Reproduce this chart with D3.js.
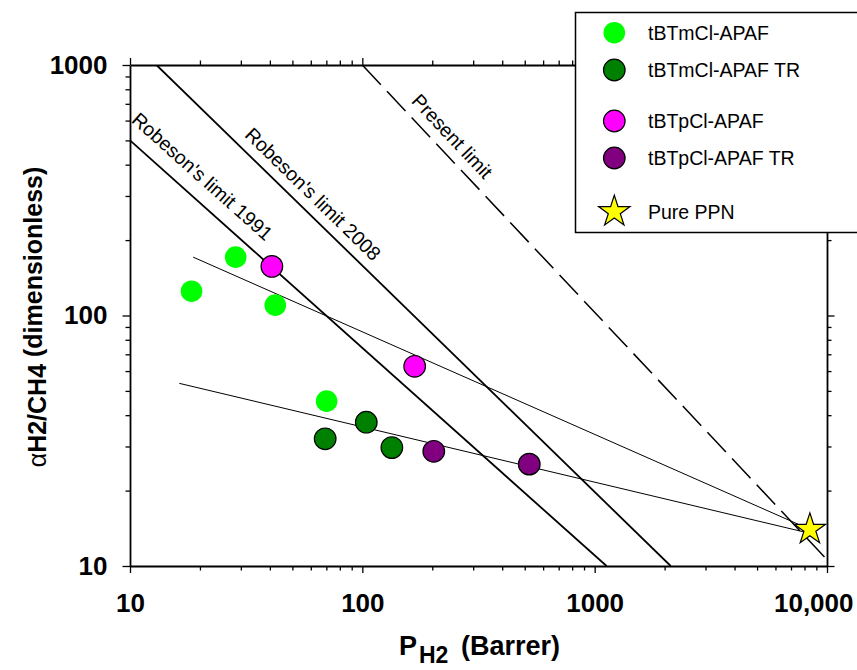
<!DOCTYPE html>
<html>
<head>
<meta charset="utf-8">
<script src="https://cdn.jsdelivr.net/npm/d3@7"></script>
<style>
  html, body { margin: 0; padding: 0; background: #fff; }
  svg { display: block; font-family: "Liberation Sans", Arial, sans-serif; }
</style>
</head>
<body>
<svg id="chart" width="857" height="670"></svg>
<script>
// ---------- data (P_H2 in Barrer, alpha H2/CH4) ----------
const seriesNames = ["tBTmCl-APAF", "tBTmCl-APAF TR", "tBTpCl-APAF", "tBTpCl-APAF TR", "Pure PPN"];
const seriesColors = ["#00ff00", "#008000", "#ff00ff", "#800080", "#ffff00"];

const mClAPAF_P     = [18.4, 28.5, 42.2, 70.2];
const mClAPAF_alpha = [125, 171, 110, 45.5];

const mClAPAF_TR_P     = [69.2, 104, 134];
const mClAPAF_TR_alpha = [32.2, 37.5, 29.7];

const pClAPAF_P     = [40.8, 168];
const pClAPAF_alpha = [157, 62.7];

const pClAPAF_TR_P     = [203, 523];
const pClAPAF_TR_alpha = [28.7, 25.5];

const ppn_P     = [8440];
const ppn_alpha = [14.0];

// upper-bound lines [P, alpha] endpoints
const robeson1991  = [[10, 500], [1125, 10]];
const robeson2008  = [[13, 1000], [2124, 10]];
const presentLimit = [[100, 1000], [10000, 10.6]];

// trend lines
const trendAPAF = [[18.7, 171], [8440, 14.0]];
const trendTR   = [[16.3, 53.6], [8440, 13.5]];

const xTickValues = [10, 100, 1000, 10000];
const xTickLabels = ["10", "100", "1000", "10,000"];
const yTickValues = [10, 100, 1000];
const yTickLabels = ["10", "100", "1000"];

// ---------- layout ----------
const svg = d3.select("#chart");
const L = 130, R = 827, T = 65, B = 566;
const FONT = '"Liberation Sans", Arial, sans-serif';

const x = d3.scaleLog().domain([10, 10000]).range([L, R]);
const y = d3.scaleLog().domain([10, 1000]).range([B, T]);

function minorTicks(domain) {
  const out = [];
  for (let d = domain[0]; d < domain[1]; d *= 10)
    for (let k = 2; k <= 9; k++) out.push(d * k);
  return out;
}
const xMinor = minorTicks([10, 10000]);
const yMinor = minorTicks([10, 1000]);

function styleAxis(g) {
  g.selectAll("path.domain").attr("stroke", "#000").attr("stroke-width", 1.8);
  g.selectAll(".tick line").attr("stroke", "#000").attr("stroke-width", 1.3);
}

// bottom
const gB = svg.append("g").attr("transform", `translate(0,${B})`)
  .call(d3.axisBottom(x).tickValues(xTickValues).tickSize(7).tickPadding(21)
        .tickFormat((d, i) => xTickLabels[i]).tickSizeOuter(0));
styleAxis(gB);
gB.selectAll("text").attr("font-family", FONT).attr("font-size", 26).attr("font-weight", "bold").attr("fill", "#000");
gB.selectAll(".tick").filter(d => d === 10000).select("text").attr("text-anchor", "end").attr("x", 853 - R);
svg.append("g").attr("transform", `translate(0,${B})`)
  .call(d3.axisBottom(x).tickValues(xMinor).tickSize(4.5).tickFormat("").tickSizeOuter(0))
  .call(g => { g.select("path.domain").remove(); styleAxis(g); });

// top
const gT = svg.append("g").attr("transform", `translate(0,${T})`)
  .call(d3.axisTop(x).tickValues(xTickValues).tickSize(7).tickFormat("").tickSizeOuter(0));
styleAxis(gT);
svg.append("g").attr("transform", `translate(0,${T})`)
  .call(d3.axisTop(x).tickValues(xMinor).tickSize(4.5).tickFormat("").tickSizeOuter(0))
  .call(g => { g.select("path.domain").remove(); styleAxis(g); });

// left
const gL = svg.append("g").attr("transform", `translate(${L},0)`)
  .call(d3.axisLeft(y).tickValues(yTickValues).tickSize(7.5).tickPadding(15)
        .tickFormat((d, i) => yTickLabels[i]).tickSizeOuter(0));
styleAxis(gL);
gL.selectAll("text").attr("font-family", FONT).attr("font-size", 26).attr("font-weight", "bold").attr("fill", "#000");
svg.append("g").attr("transform", `translate(${L},0)`)
  .call(d3.axisLeft(y).tickValues(yMinor).tickSize(4.5).tickFormat("").tickSizeOuter(0))
  .call(g => { g.select("path.domain").remove(); styleAxis(g); });

// right
const gR = svg.append("g").attr("transform", `translate(${R},0)`)
  .call(d3.axisRight(y).tickValues(yTickValues).tickSize(7.5).tickFormat("").tickSizeOuter(0));
styleAxis(gR);
svg.append("g").attr("transform", `translate(${R},0)`)
  .call(d3.axisRight(y).tickValues(yMinor).tickSize(4.5).tickFormat("").tickSizeOuter(0))
  .call(g => { g.select("path.domain").remove(); styleAxis(g); });

// clip
svg.append("clipPath").attr("id", "plotClip").append("rect")
  .attr("x", L).attr("y", T).attr("width", R - L).attr("height", B - T);
const plot = svg.append("g").attr("clip-path", "url(#plotClip)");

const line = d3.line().x(d => x(d[0])).y(d => y(d[1]));

// bound lines
plot.append("path").datum(robeson1991).attr("d", line)
  .attr("fill", "none").attr("stroke", "#000").attr("stroke-width", 1.8);
plot.append("path").datum(robeson2008).attr("d", line)
  .attr("fill", "none").attr("stroke", "#000").attr("stroke-width", 1.8);
plot.append("path").datum(presentLimit).attr("d", line)
  .attr("fill", "none").attr("stroke", "#000").attr("stroke-width", 1.5)
  .attr("stroke-dasharray", "27,9");

// trend lines
plot.append("path").datum(trendAPAF).attr("d", line)
  .attr("fill", "none").attr("stroke", "#000").attr("stroke-width", 1);
plot.append("path").datum(trendTR).attr("d", line)
  .attr("fill", "none").attr("stroke", "#000").attr("stroke-width", 1);

// line labels: [text, line, P where label sits, perpendicular offset px]
const lineLabels = [
  ["Robeson's limit 1991", robeson1991, 17.8, 14.5],
  ["Robeson's limit 2008", robeson2008, 54.6, 10],
  ["Present limit", presentLimit, 216, 10]
];
lineLabels.forEach(([txt, ln, p, off]) => {
  const x0 = x(ln[0][0]), y0 = y(ln[0][1]), x1 = x(ln[1][0]), y1 = y(ln[1][1]);
  const ang = Math.atan2(y1 - y0, x1 - x0);
  const t = (x(p) - x0) / (x1 - x0);
  const px = x0 + t * (x1 - x0), py = y0 + t * (y1 - y0);
  const nx = Math.sin(ang), ny = -Math.cos(ang);
  svg.append("text")
    .attr("transform", `translate(${px + off * nx},${py + off * ny}) rotate(${ang * 180 / Math.PI})`)
    .attr("text-anchor", "middle")
    .attr("font-family", FONT).attr("font-size", 19.5).attr("fill", "#000")
    .text(txt);
});

// markers
const circleSeries = [
  [mClAPAF_P, mClAPAF_alpha, 0, "none"],
  [mClAPAF_TR_P, mClAPAF_TR_alpha, 1, "#000"],
  [pClAPAF_P, pClAPAF_alpha, 2, "#000"],
  [pClAPAF_TR_P, pClAPAF_TR_alpha, 3, "#000"]
];
circleSeries.forEach(([ps, as, ci, stroke]) => {
  svg.append("g").selectAll("circle").data(ps.map((p, i) => [p, as[i]])).join("circle")
    .attr("cx", d => x(d[0])).attr("cy", d => y(d[1])).attr("r", 10.8)
    .attr("fill", seriesColors[ci]).attr("stroke", stroke).attr("stroke-width", 1.2);
});
const star = d3.symbol().type(d3.symbolStar).size(305);
svg.append("g").selectAll("path").data(ppn_P.map((p, i) => [p, ppn_alpha[i]])).join("path")
  .attr("d", star).attr("transform", d => `translate(${x(d[0])},${y(d[1])})`)
  .attr("fill", seriesColors[4]).attr("stroke", "#000").attr("stroke-width", 1.2);

// legend
const lg = svg.append("g");
lg.append("rect").attr("x", 575.5).attr("y", 12.5).attr("width", 320).attr("height", 220)
  .attr("fill", "#fff").attr("stroke", "#000").attr("stroke-width", 1.5);
const legendY = [32.7, 70, 121, 158, 211.7];
seriesNames.forEach((name, i) => {
  if (i < 4) {
    lg.append("circle").attr("cx", 614.3).attr("cy", legendY[i]).attr("r", 10.8)
      .attr("fill", seriesColors[i]).attr("stroke", i === 0 ? "none" : "#000").attr("stroke-width", 1.2);
  } else {
    lg.append("path").attr("d", star).attr("transform", `translate(614.3,${legendY[i]})`)
      .attr("fill", seriesColors[i]).attr("stroke", "#000").attr("stroke-width", 1.2);
  }
  lg.append("text").attr("x", 648).attr("y", legendY[i] + 7)
    .attr("font-family", FONT).attr("font-size", 19.5).attr("fill", "#000").text(name);
});

// axis titles
const xt = svg.append("text").attr("y", 655)
  .attr("font-family", FONT).attr("font-size", 27).attr("font-weight", "bold").attr("fill", "#000");
xt.append("tspan").attr("x", 399).text("P");
xt.append("tspan").attr("x", 419).attr("dy", 8).attr("font-size", 23).text("H2");
xt.append("tspan").attr("x", 461).attr("dy", -8).text("(Barrer)");

const yt = svg.append("text").attr("transform", "translate(46,317) rotate(-90)")
  .attr("text-anchor", "middle")
  .attr("font-family", FONT).attr("font-size", 25).attr("font-weight", "bold").attr("fill", "#000");
yt.append("tspan").attr("font-weight", "normal").text("α");
yt.append("tspan").text("H2/CH4");
yt.append("tspan").attr("dy", -4.5).text(" (dimensionless)");
</script>
</body>
</html>
